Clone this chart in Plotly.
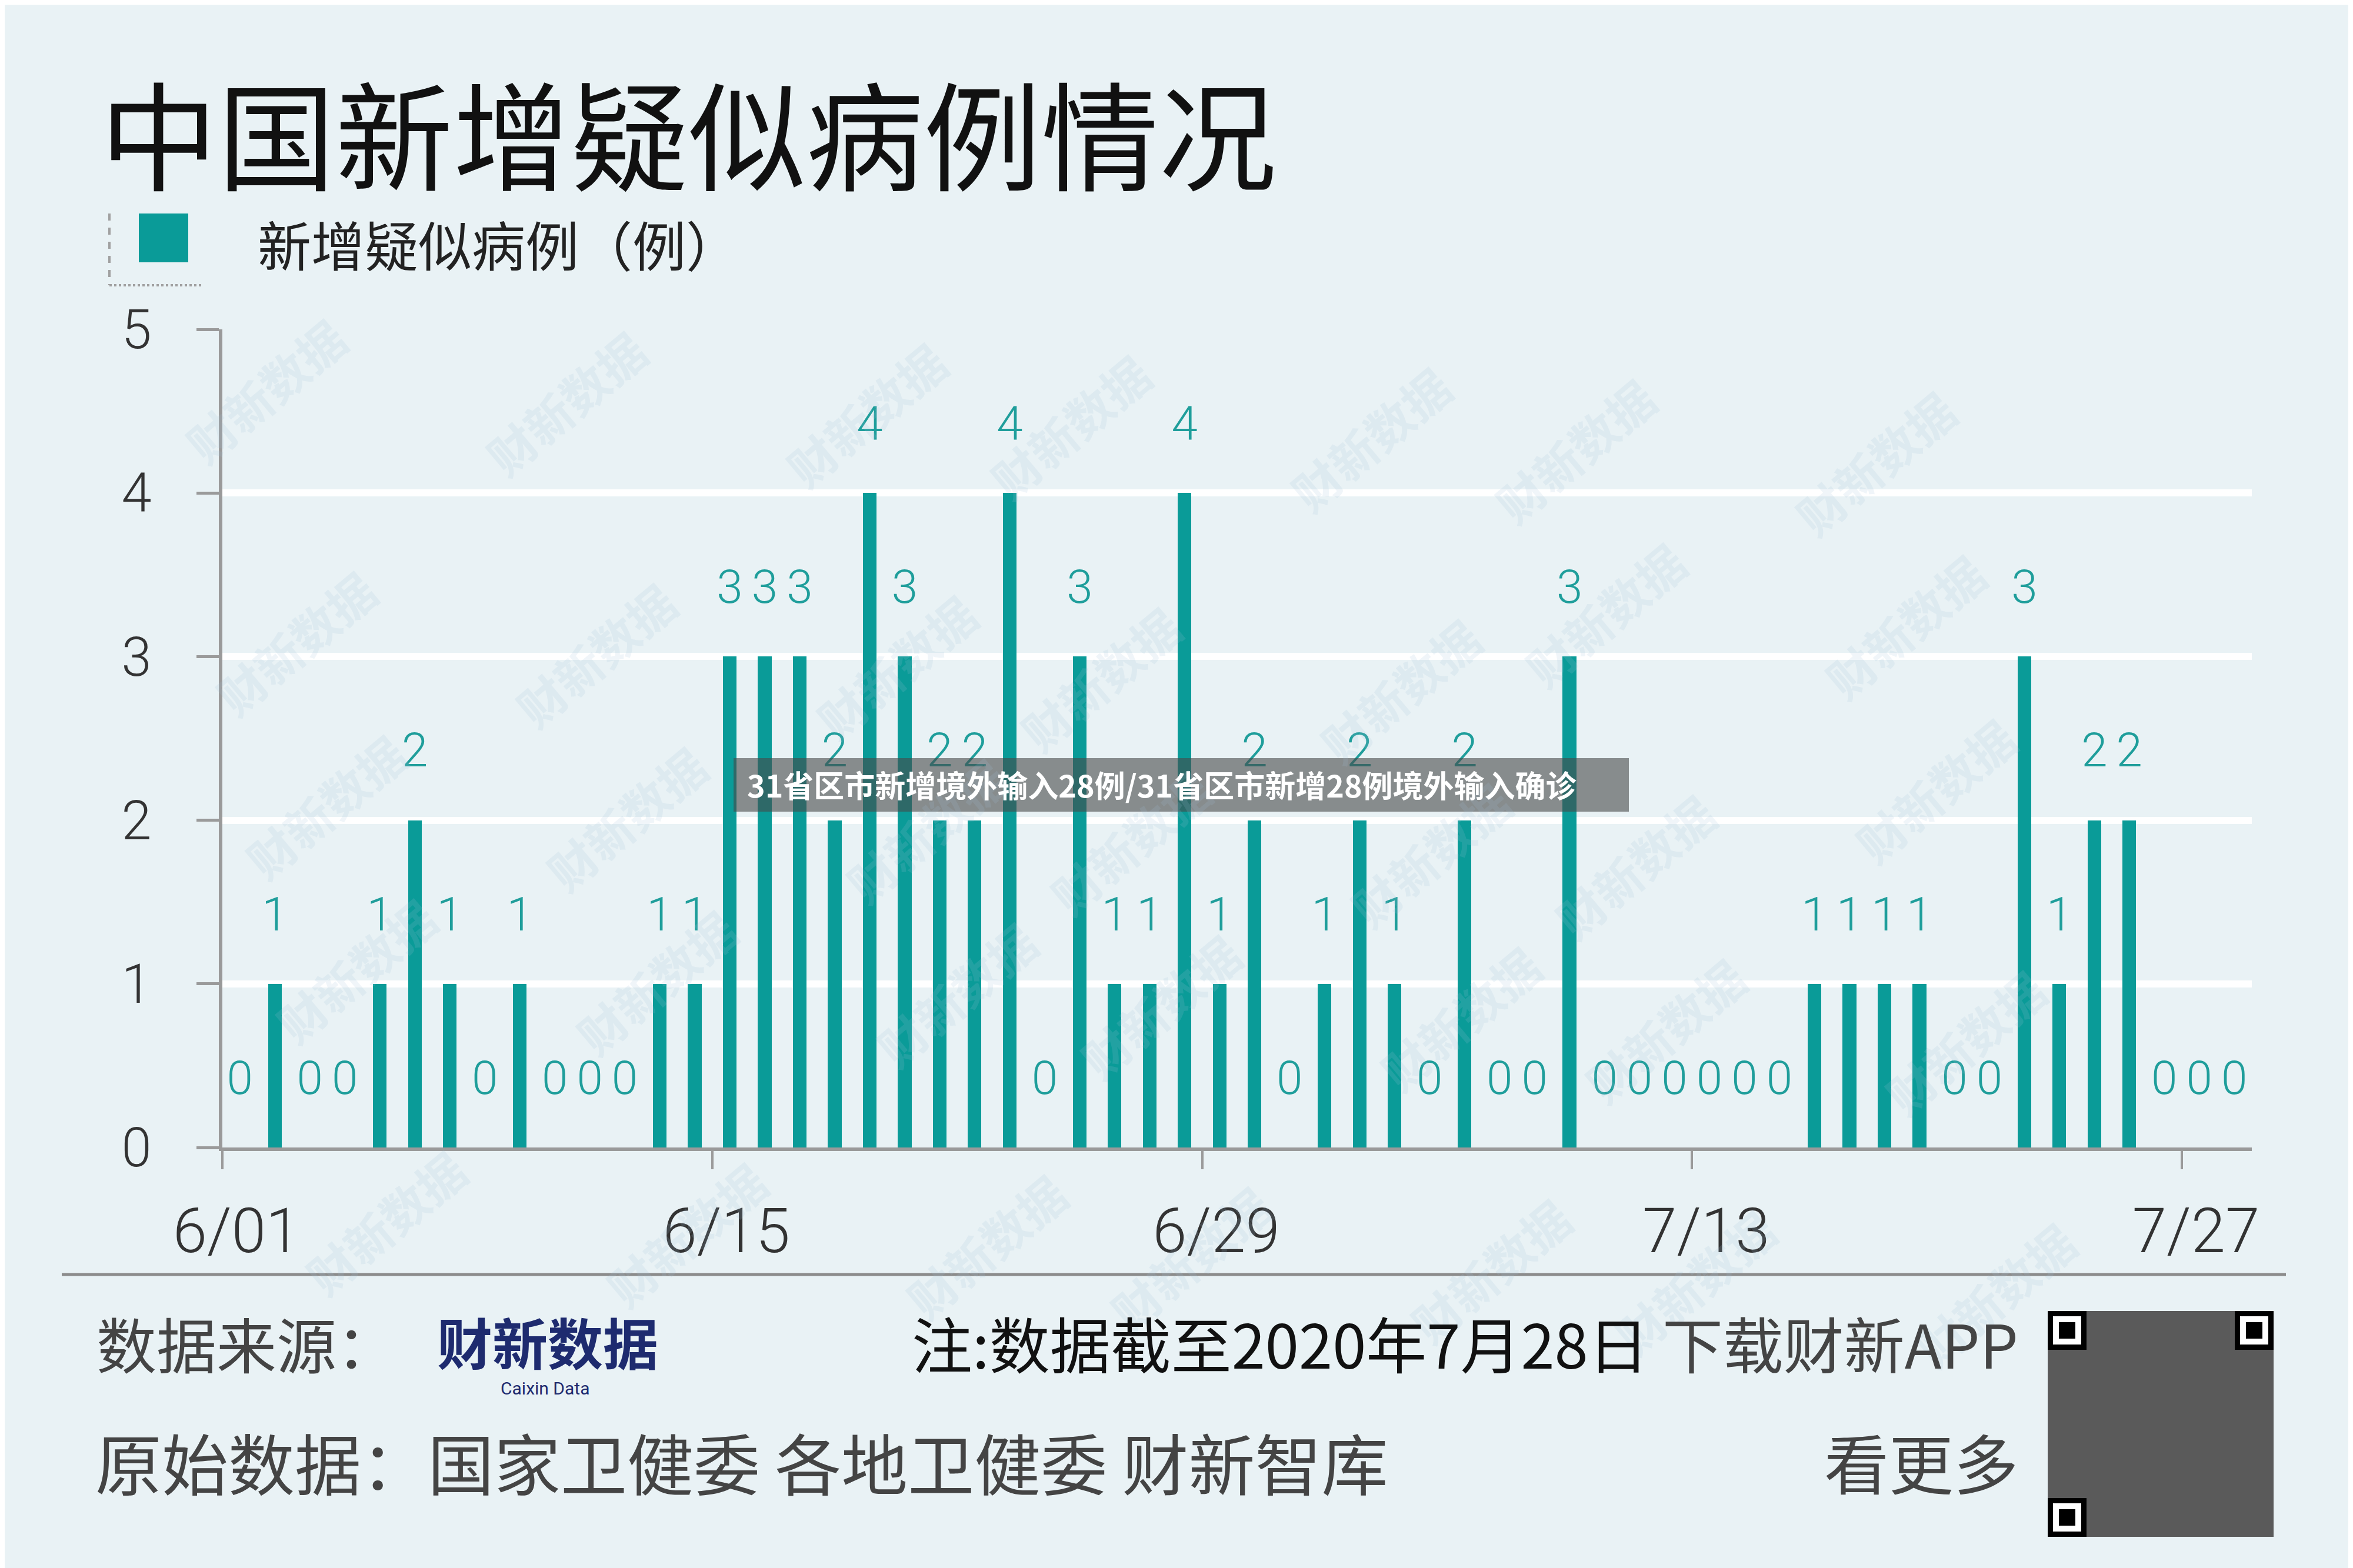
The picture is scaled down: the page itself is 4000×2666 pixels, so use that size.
import pandas as pd
import plotly.graph_objects as go

# ---------------- data ----------------
dates = pd.date_range("2020-06-01", "2020-07-28", freq="D")
new_suspected = [0, 1, 0, 0, 1, 2, 1, 0, 1, 0, 0, 0, 1, 1, 3, 3, 3, 2, 4, 3,
                 2, 2, 4, 0, 3, 1, 1, 4, 1, 2, 0, 1, 2, 1, 0, 2, 0, 0, 3, 0,
                 0, 0, 0, 0, 0, 1, 1, 1, 1, 0, 0, 3, 1, 2, 2, 0, 0, 0]
tick_labels = ["6/01", "6/15", "6/29", "7/13", "7/27"]
y_ticks = [0, 1, 2, 3, 4, 5]

title = "中国新增疑似病例情况"
series_name = "新增疑似病例（例）"
banner = "31省区市新增境外输入28例/31省区市新增28例境外输入确诊"

# ---------------- layout helpers ----------------
W, H = 4000, 2666
L, R, T, B = 370, 180, 552, 723
PW, PH = W - L - R, H - T - B
TEAL = "#0a9b98"
BG = "#e9f2f5"
CJK = "Noto Sans CJK SC"


def px(x):
    return (x - L) / PW


def py(y):
    return (H - B - y) / PH


tick_dates = [pd.Timestamp("2020-" + t.replace("/", "-")) - pd.Timedelta(hours=12)
              for t in tick_labels]
day_ms = 86400000

fig = go.Figure()

fig.add_trace(go.Bar(
    x=dates, y=new_suspected, width=0.39 * day_ms,
    marker=dict(color=TEAL, line=dict(width=0)),
    hoverinfo="x+y", showlegend=False,
))

fig.add_trace(go.Scatter(
    x=dates, y=[v + 0.4 for v in new_suspected],
    text=[str(v) for v in new_suspected], mode="text",
    textposition="middle center",
    textfont=dict(family="Roboto", size=80, color="#1f9e9b", weight=300),
    showlegend=False, hoverinfo="skip",
))

shapes = []
annotations = []

# watermarks (decorative, kept inside the canvas)
for r in range(-1, 10):
    for c in range(-1, 9):
        cx = (90 + 200 * c + 20 * r) * 2.551
        cy = (30 + 168 * r + 8 * c) * 2.551
        if not (220 <= cx <= 3780 and 200 <= cy <= 2470):
            continue
        annotations.append(dict(
            x=px(cx), y=py(cy), xref="paper", yref="paper", text="财新数据",
            showarrow=False, textangle=-40,
            font=dict(family=CJK, size=80, color="rgba(160,190,215,0.16)", weight="bold"),
        ))

# title
annotations.append(dict(x=px(160), y=py(214), xref="paper", yref="paper", text=title,
                        showarrow=False, xanchor="left", yanchor="middle",
                        font=dict(family=CJK, size=200, color="#111111")))
# legend
shapes.append(dict(type="rect", xref="paper", yref="paper", x0=px(228), x1=px(312),
                   y0=py(438), y1=py(355), fillcolor=TEAL, line=dict(width=0)))
shapes.append(dict(type="line", xref="paper", yref="paper", x0=px(178), x1=px(178),
                   y0=py(355), y1=py(477), line=dict(color="#a0a0a0", width=4, dash="dash")))
shapes.append(dict(type="line", xref="paper", yref="paper", x0=px(178), x1=px(338),
                   y0=py(477), y1=py(477), line=dict(color="#a0a0a0", width=4, dash="dot")))
annotations.append(dict(x=px(428), y=py(405), xref="paper", yref="paper", text=series_name,
                        showarrow=False, xanchor="left", yanchor="middle",
                        font=dict(family=CJK, size=91, color="#222222")))

# separator
shapes.append(dict(type="line", xref="paper", yref="paper", x0=px(97), x1=px(3878),
                   y0=py(2159), y1=py(2159), line=dict(color="#8c8c8c", width=5)))

# footer
annotations.append(dict(x=px(154), y=py(2274), xref="paper", yref="paper", text="数据来源：",
                        showarrow=False, xanchor="left", yanchor="middle",
                        font=dict(family=CJK, size=102, color="#444444")))
annotations.append(dict(x=px(733), y=py(2272), xref="paper", yref="paper", text="<b>财新数据</b>",
                        showarrow=False, xanchor="left", yanchor="middle",
                        font=dict(family=CJK, size=94, color="#1e2b6f")))
annotations.append(dict(x=px(918), y=py(2352), xref="paper", yref="paper", text="Caixin Data",
                        showarrow=False, xanchor="center", yanchor="middle",
                        font=dict(family="Roboto", size=30, color="#1e2b6f")))
annotations.append(dict(x=px(3425), y=py(2274), xref="paper", yref="paper",
                        text='注:数据截至2020年7月28日 <span style="color:#444444">下载财新APP</span>',
                        showarrow=False, xanchor="right", yanchor="middle",
                        font=dict(family=CJK, size=103, color="#111111")))
annotations.append(dict(x=px(152), y=py(2476), xref="paper", yref="paper",
                        text="原始数据：国家卫健委 各地卫健委 财新智库",
                        showarrow=False, xanchor="left", yanchor="middle",
                        font=dict(family=CJK, size=113, color="#444444")))
annotations.append(dict(x=px(3425), y=py(2476), xref="paper", yref="paper", text="看更多",
                        showarrow=False, xanchor="right", yanchor="middle",
                        font=dict(family=CJK, size=110, color="#444444")))

# QR code (approximation)
qx0, qy0, qs = 3473, 2221, 384
shapes.append(dict(type="rect", xref="paper", yref="paper", x0=px(qx0), x1=px(qx0 + qs),
                   y0=py(qy0 + qs), y1=py(qy0), fillcolor="#5a5a5a", line=dict(width=0)))
for fx, fy in [(qx0, qy0), (qx0 + qs - 66, qy0), (qx0, qy0 + qs - 66)]:
    shapes.append(dict(type="rect", xref="paper", yref="paper", x0=px(fx), x1=px(fx + 66),
                       y0=py(fy + 66), y1=py(fy), fillcolor="#000000", line=dict(width=0)))
    shapes.append(dict(type="rect", xref="paper", yref="paper", x0=px(fx + 9), x1=px(fx + 57),
                       y0=py(fy + 57), y1=py(fy + 9), fillcolor="#ffffff", line=dict(width=0)))
    shapes.append(dict(type="rect", xref="paper", yref="paper", x0=px(fx + 19), x1=px(fx + 47),
                       y0=py(fy + 47), y1=py(fy + 19), fillcolor="#000000", line=dict(width=0)))

# banner overlay
shapes.append(dict(type="rect", xref="paper", yref="paper", x0=px(1239), x1=px(2761),
                   y0=py(1372), y1=py(1281), fillcolor="rgba(70,72,72,0.6)",
                   line=dict(width=0), layer="above"))
annotations.append(dict(x=px(1260), y=py(1325), xref="paper", yref="paper",
                        text="<b>" + banner + "</b>", showarrow=False,
                        xanchor="left", yanchor="middle",
                        font=dict(family=CJK, size=52, color="#ffffff")))

fig.update_layout(
    width=W, height=H,
    margin=dict(l=L, r=R, t=T, b=B),
    paper_bgcolor=BG, plot_bgcolor=BG,
    bargap=0,
    shapes=shapes, annotations=annotations,
    xaxis=dict(
        range=[dates[0] - pd.Timedelta(hours=12), dates[-1] + pd.Timedelta(hours=12)],
        tickvals=tick_dates, ticktext=tick_labels,
        showgrid=False, zeroline=False,
        showline=True, linecolor="#9a9a9a", linewidth=6,
        ticks="outside", ticklen=31, tickwidth=4, tickcolor="#9a9a9a",
        tickfont=dict(family="Roboto", size=105, color="#333333", weight=300),
        ticklabelshift=24, ticklabelstandoff=15,
    ),
    yaxis=dict(
        range=[0, 5], tickvals=y_ticks,
        showgrid=True, gridcolor="#ffffff", gridwidth=12,
        zeroline=False,
        showline=True, linecolor="#9a9a9a", linewidth=6,
        ticks="outside", ticklen=38, tickwidth=5, tickcolor="#9a9a9a",
        tickfont=dict(family="Roboto", size=92, color="#333333", weight=300),
        ticklabelstandoff=58,
    ),
)

fig.write_html("out.html")
